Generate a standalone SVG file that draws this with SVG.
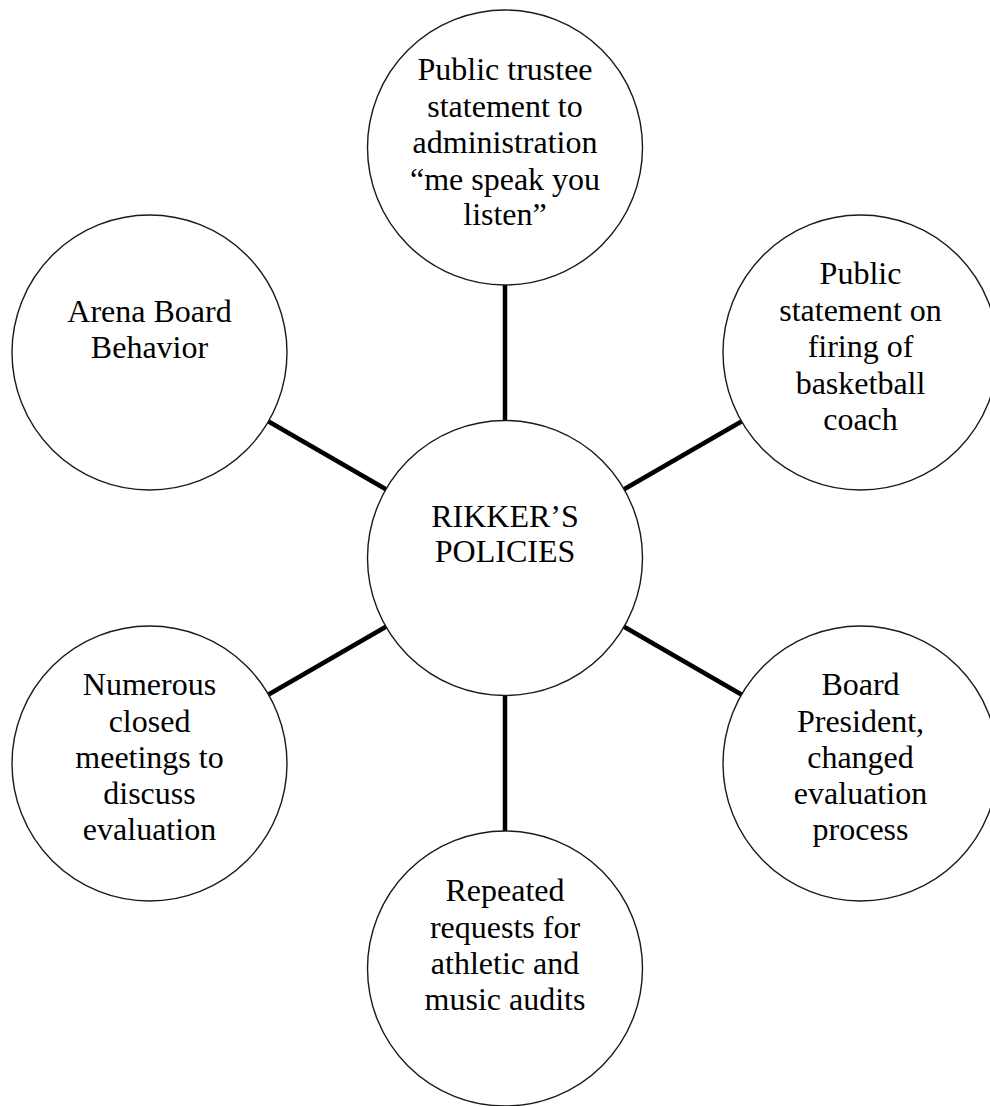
<svg xmlns="http://www.w3.org/2000/svg" width="990" height="1106" viewBox="0 0 990 1106">
  <style>
    .node circle { fill: #ffffff; stroke: #1a1a1a; stroke-width: 1.4; }
    .node text { font-family: "Liberation Serif", "Times New Roman", serif; font-size: 32px; fill: #000000; text-anchor: middle; }
    .link { stroke: #000000; stroke-width: 4.5; stroke-linecap: butt; }
  </style>
  <rect x="0" y="0" width="990" height="1106" fill="#ffffff"/>

  <!-- spokes joining the hub to each surrounding circle -->
  <g id="connectors">
    <line class="link" x1="505" y1="285" x2="505" y2="421"/>
    <line class="link" x1="268.6" y1="421.5" x2="385.9" y2="489.3"/>
    <line class="link" x1="741.4" y1="421.5" x2="624.1" y2="489.3"/>
    <line class="link" x1="268.6" y1="694.5" x2="385.9" y2="626.8"/>
    <line class="link" x1="741.4" y1="694.5" x2="624.1" y2="626.8"/>
    <line class="link" x1="505" y1="695" x2="505" y2="831"/>
  </g>

  <!-- hub -->
  <g id="node-center" class="node">
    <circle cx="505" cy="558" r="137.5"/>
    <text x="505" y="527">RIKKER’S</text>
    <text x="505" y="562">POLICIES</text>
  </g>

  <g id="node-top" class="node">
    <circle cx="505" cy="147.5" r="137.5"/>
    <text x="505" y="80">Public trustee</text>
    <text x="505" y="116.5">statement to</text>
    <text x="505" y="153">administration</text>
    <text x="505" y="189.5">“me speak you</text>
    <text x="505" y="225">listen”</text>
  </g>

  <g id="node-upper-left" class="node">
    <circle cx="149.5" cy="352.5" r="137.5"/>
    <text x="149.5" y="322">Arena Board</text>
    <text x="149.5" y="358">Behavior</text>
  </g>

  <g id="node-upper-right" class="node">
    <circle cx="860.5" cy="352.5" r="137.5"/>
    <text x="860.5" y="284">Public</text>
    <text x="860.5" y="320.5">statement on</text>
    <text x="860.5" y="357">firing of</text>
    <text x="860.5" y="393.5">basketball</text>
    <text x="860.5" y="430">coach</text>
  </g>

  <g id="node-lower-left" class="node">
    <circle cx="149.5" cy="763.5" r="137.5"/>
    <text x="149.5" y="695">Numerous</text>
    <text x="149.5" y="731.5">closed</text>
    <text x="149.5" y="768">meetings to</text>
    <text x="149.5" y="804">discuss</text>
    <text x="149.5" y="840">evaluation</text>
  </g>

  <g id="node-lower-right" class="node">
    <circle cx="860.5" cy="763.5" r="137.5"/>
    <text x="860.5" y="695">Board</text>
    <text x="860.5" y="731.5">President,</text>
    <text x="860.5" y="767.5">changed</text>
    <text x="860.5" y="803.5">evaluation</text>
    <text x="860.5" y="840">process</text>
  </g>

  <g id="node-bottom" class="node">
    <circle cx="505" cy="968.5" r="137.5"/>
    <text x="505" y="901">Repeated</text>
    <text x="505" y="937.5">requests for</text>
    <text x="505" y="974">athletic and</text>
    <text x="505" y="1010">music audits</text>
  </g>
</svg>
